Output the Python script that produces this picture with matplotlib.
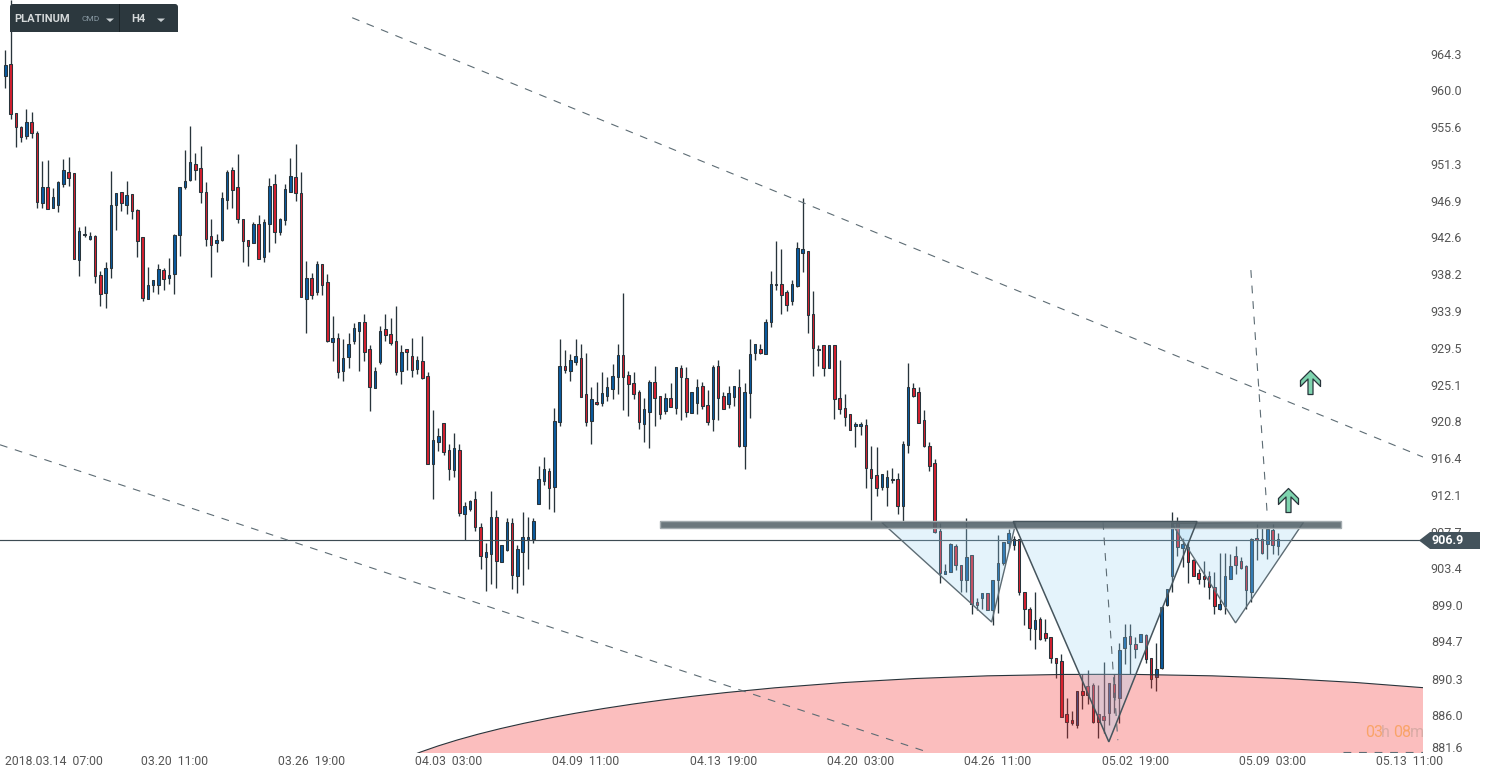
import matplotlib
matplotlib.use('Agg')
import matplotlib.pyplot as plt
from matplotlib.patches import Ellipse, FancyBboxPatch, Polygon, Rectangle
from matplotlib.path import Path
from matplotlib.transforms import Affine2D, ScaledTranslation

# --- Data (4h candles, one row = 10 candles) ---
opens = [
    961.7, 963.1, 957.3, 955.7, 954.6, 956.2, 954.9, 946.6, 948.6, 946.0,
    946.4, 948.9, 950.3, 950.2, 939.9, 943.0, 942.4, 942.7, 938.1, 936.0,
    939.0, 946.4, 947.9, 946.4, 947.7, 945.8, 942.6, 935.3, 936.9, 936.9,
    938.7, 937.8, 938.2, 942.9, 948.5, 949.4, 951.3, 950.8, 947.9, 942.7,
    941.9, 942.3, 947.0, 950.5, 948.6, 944.8, 942.3, 941.9, 944.1, 940.3,
    944.1, 948.9, 943.2, 944.6, 948.0, 949.7, 947.8, 935.3, 937.8, 936.1,
    939.4, 937.3, 930.2, 930.7, 926.8, 928.4, 930.3, 931.5, 932.5, 929.3,
    924.7, 927.8, 931.7, 931.1, 930.3, 926.8, 929.3, 928.5, 927.0, 927.9,
    926.2, 915.7, 918.3, 920.6, 917.4, 915.0, 917.4, 909.8, 910.4, 911.6,
    908.2, 904.7, 905.1, 909.4, 904.1, 905.5, 908.7, 902.5, 905.3, 906.8,
    906.8, 911.0, 913.7, 914.9, 913.0, 920.7, 927.3, 926.8, 927.8, 928.3,
    924.0, 920.8, 923.1, 923.0, 923.8, 924.6, 926.0, 928.6, 926.3, 925.3,
    924.3, 920.5, 921.9, 925.4, 923.8, 922.0, 923.5, 922.4, 927.1, 925.9,
    921.8, 923.0, 925.0, 922.7, 921.0, 927.3, 923.8, 922.8, 923.7, 924.9,
    917.8, 924.1, 928.9, 929.3, 928.8, 932.5, 937.1, 937.0, 936.1, 935.0,
    936.8, 940.7, 941.0, 933.5, 929.4, 929.8, 927.1, 929.8, 923.5, 922.4,
    921.6, 920.2, 920.2, 920.3, 915.1, 914.4, 913.0, 913.0, 914.0, 913.9,
    910.8, 918.0, 924.7, 924.3, 920.9, 917.9, 915.8, 907.8, 902.7, 902.9,
    906.0, 903.7, 902.0, 904.9, 899.4, 899.9, 900.4, 898.4, 902.0, 904.0,
    906.4, 906.1, 906.8, 900.6, 898.5, 896.2, 897.4, 895.7, 895.2, 892.7,
    892.4, 886.1, 885.4, 884.8, 888.8, 889.4, 889.5, 886.1, 885.9, 886.2,
    889.7, 888.0, 893.9, 895.3, 894.4, 894.6, 895.5, 892.7, 890.5, 891.5,
    899.0, 902.4, 908.8, 905.8, 905.9, 904.4, 902.8, 902.5, 902.4, 901.2,
    898.6, 898.9, 902.1, 904.8, 904.2, 903.6, 900.6, 906.9, 906.8, 906.3,
    907.9, 906.0,
]
highs = [
    964.8, 970.7, 957.3, 955.8, 957.8, 957.4, 955.2, 951.6, 951.7, 948.4,
    949.2, 951.9, 952.1, 950.2, 943.8, 943.9, 943.2, 942.8, 938.6, 939.7,
    950.4, 947.8, 947.9, 949.3, 947.7, 945.9, 942.6, 939.1, 937.5, 939.4,
    938.9, 940.1, 943.0, 948.5, 952.9, 955.8, 952.6, 953.4, 949.1, 944.8,
    943.0, 947.9, 950.5, 950.9, 952.4, 944.8, 942.3, 944.4, 945.2, 944.8,
    949.6, 950.1, 944.9, 948.9, 952.0, 953.6, 950.3, 939.8, 938.3, 939.8,
    939.4, 938.2, 933.2, 931.3, 930.5, 931.2, 932.4, 932.5, 933.5, 929.8,
    927.2, 932.1, 933.5, 933.0, 934.5, 929.8, 929.3, 930.7, 928.5, 930.9,
    926.6, 922.1, 920.0, 920.6, 918.1, 919.4, 918.1, 911.2, 911.5, 912.5,
    908.7, 906.4, 912.5, 910.3, 906.1, 909.3, 909.3, 906.1, 910.0, 909.4,
    909.3, 915.5, 916.5, 915.2, 922.3, 930.5, 929.2, 928.8, 930.5, 930.0,
    928.9, 924.8, 925.4, 926.6, 926.0, 927.6, 930.0, 936.0, 926.7, 926.6,
    924.5, 923.5, 925.7, 927.3, 923.8, 924.1, 925.3, 927.2, 927.5, 927.2,
    924.2, 925.8, 925.4, 924.5, 927.4, 928.1, 924.2, 925.0, 925.0, 927.0,
    925.3, 930.5, 930.0, 930.0, 932.9, 938.6, 942.2, 941.2, 936.3, 937.5,
    942.0, 947.2, 941.0, 936.2, 929.8, 929.8, 929.8, 929.8, 928.1, 924.0,
    921.7, 920.7, 920.7, 921.1, 917.8, 917.7, 914.5, 915.0, 915.3, 914.6,
    918.5, 927.7, 925.3, 924.9, 922.1, 918.3, 916.3, 908.7, 903.9, 906.4,
    906.2, 903.7, 909.3, 904.9, 899.8, 900.4, 900.4, 902.0, 907.3, 906.5,
    908.0, 907.2, 906.8, 900.6, 898.8, 900.6, 897.6, 897.4, 895.2, 892.7,
    893.2, 888.0, 886.5, 888.8, 890.8, 891.3, 889.8, 889.5, 892.3, 889.8,
    890.8, 894.5, 896.8, 896.8, 895.2, 895.6, 895.6, 892.7, 894.5, 898.8,
    900.9, 910.0, 909.4, 906.9, 906.5, 904.5, 903.3, 904.2, 903.0, 902.9,
    905.2, 905.2, 905.0, 906.0, 904.7, 903.8, 906.9, 908.6, 908.1, 908.2,
    908.6, 907.5,
]
lows = [
    960.3, 956.6, 953.3, 953.9, 954.2, 954.3, 946.0, 946.0, 945.9, 946.0,
    945.6, 948.5, 948.7, 940.0, 938.0, 942.6, 942.3, 937.2, 934.4, 934.2,
    937.8, 943.5, 945.7, 945.3, 944.8, 940.2, 935.0, 935.3, 936.1, 935.9,
    936.3, 937.0, 935.9, 940.4, 948.3, 949.2, 949.4, 946.7, 941.5, 937.9,
    940.8, 942.2, 945.9, 946.0, 944.3, 939.6, 939.2, 941.9, 940.0, 939.6,
    940.8, 941.9, 942.9, 944.0, 948.0, 946.9, 935.5, 931.3, 935.3, 935.8,
    935.8, 930.2, 927.9, 925.9, 925.5, 927.1, 930.0, 926.8, 927.9, 922.0,
    924.7, 927.6, 930.3, 929.8, 926.3, 925.2, 926.9, 926.0, 926.4, 925.8,
    915.7, 911.6, 917.3, 916.8, 913.8, 914.2, 909.6, 906.7, 910.2, 907.8,
    903.3, 900.7, 901.5, 901.0, 904.1, 905.4, 900.9, 900.4, 901.4, 903.3,
    906.4, 911.0, 913.2, 910.4, 910.0, 920.2, 926.5, 925.6, 927.5, 923.7,
    920.2, 918.1, 922.7, 922.6, 923.2, 923.4, 924.0, 922.1, 921.4, 923.4,
    919.9, 918.3, 917.6, 920.2, 921.1, 921.6, 922.5, 921.6, 920.9, 921.3,
    921.8, 921.6, 922.2, 920.3, 919.6, 920.9, 922.2, 922.4, 922.6, 917.7,
    915.1, 921.2, 928.0, 928.7, 928.8, 932.0, 936.3, 933.5, 933.8, 934.6,
    936.7, 938.5, 931.2, 926.1, 927.3, 926.1, 927.1, 921.1, 921.7, 920.2,
    919.7, 917.7, 919.2, 912.9, 909.1, 911.9, 912.6, 910.8, 913.5, 909.8,
    908.8, 917.0, 923.7, 920.6, 917.7, 914.9, 907.5, 901.6, 902.7, 902.9,
    903.2, 900.6, 900.6, 897.9, 898.4, 898.6, 898.4, 896.6, 898.1, 903.8,
    905.8, 905.5, 900.2, 896.6, 894.9, 893.8, 894.9, 894.8, 892.2, 890.4,
    885.8, 883.3, 884.8, 884.5, 886.7, 887.3, 885.0, 883.3, 883.9, 884.8,
    886.2, 885.0, 892.0, 890.8, 892.7, 894.6, 892.1, 889.2, 888.8, 891.4,
    898.9, 900.5, 904.8, 903.5, 901.6, 902.5, 901.5, 901.2, 899.7, 897.9,
    898.4, 898.0, 902.1, 902.7, 903.3, 898.6, 899.4, 904.4, 905.0, 904.5,
    905.1, 904.9,
]
closes = [
    963.0, 957.2, 955.6, 954.5, 956.3, 955.0, 946.8, 948.5, 945.9, 947.3,
    949.1, 950.5, 949.6, 940.0, 943.3, 942.8, 942.7, 938.0, 935.9, 939.0,
    946.4, 947.8, 946.6, 947.6, 945.7, 942.1, 935.4, 936.9, 937.5, 938.8,
    937.6, 938.1, 942.9, 948.5, 949.3, 951.5, 950.5, 948.0, 942.4, 941.7,
    942.3, 947.2, 950.3, 948.2, 944.8, 942.1, 941.6, 944.1, 940.0, 944.4,
    948.7, 943.2, 944.7, 948.3, 949.8, 947.8, 935.5, 937.8, 935.8, 939.4,
    936.9, 930.3, 930.6, 926.6, 928.3, 930.0, 931.8, 932.5, 929.0, 924.9,
    926.7, 931.5, 931.0, 930.1, 926.6, 929.0, 929.0, 926.9, 928.0, 925.9,
    915.7, 918.6, 919.0, 917.2, 915.1, 917.6, 909.9, 910.7, 911.3, 908.2,
    904.8, 905.3, 909.4, 904.2, 906.1, 908.8, 902.6, 905.6, 907.1, 907.1,
    909.0, 913.9, 915.1, 912.9, 920.8, 927.3, 926.9, 928.0, 928.5, 923.7,
    920.7, 923.4, 922.8, 924.1, 924.8, 926.1, 928.6, 926.0, 925.2, 924.0,
    920.7, 922.2, 925.4, 923.5, 921.6, 923.5, 922.5, 927.2, 926.0, 921.9,
    924.2, 924.9, 922.6, 920.7, 927.2, 923.5, 922.2, 924.1, 925.0, 917.9,
    924.3, 928.8, 929.9, 928.9, 932.5, 937.0, 936.9, 935.8, 934.6, 937.0,
    941.3, 941.2, 933.4, 929.5, 929.2, 927.1, 929.8, 923.4, 922.2, 921.3,
    919.8, 920.5, 920.5, 915.2, 914.1, 912.9, 914.5, 914.2, 913.8, 910.7,
    918.1, 924.8, 923.8, 920.6, 917.9, 915.5, 907.7, 902.8, 903.1, 906.2,
    903.7, 902.0, 904.7, 899.1, 899.0, 900.4, 898.4, 902.0, 904.0, 906.5,
    907.5, 906.8, 900.6, 898.5, 896.3, 897.2, 895.0, 895.1, 892.7, 892.1,
    885.8, 885.2, 885.0, 888.8, 888.4, 888.3, 885.2, 885.2, 885.4, 889.8,
    888.1, 893.7, 895.2, 894.4, 893.8, 895.6, 892.6, 890.3, 891.4, 898.8,
    900.9, 908.8, 905.9, 906.3, 904.1, 902.5, 902.1, 902.1, 901.2, 898.9,
    899.1, 902.5, 903.6, 903.8, 903.4, 900.8, 906.8, 906.7, 905.2, 908.0,
    906.1, 906.8,
]

# axis labels
price_ticks = [964.3, 960.0, 955.6, 951.3, 946.9, 942.6, 938.2, 933.9, 929.5, 925.1,
               920.8, 916.4, 912.1, 907.7, 903.4, 899.0, 894.7, 890.3, 886.0, 881.6]
date_idx = [9.3, 32, 58, 84, 110, 136, 162, 188, 214, 240, 266]
date_labels = ['2018.03.14  07:00', '03.20  11:00', '03.26  19:00', '04.03  03:00',
               '04.09  11:00', '04.13  19:00', '04.20  03:00', '04.26  11:00',
               '05.02  19:00', '05.09  03:00', '05.13  11:00']
last_price = 906.7
last_label = '906.9'

# drawn analysis, as (candle index, price)
trend_upper = ([65.7, 268.5], [968.6, 916.55])
trend_lower = ([-1.0, 175.1], [918.0, 881.5])
trend_base = ([253.3, 268.5], [881.6, 881.6])
target_top = ([235.9, 239.0], [938.7, 909.7])
target_low = ([207.9, 210.7], [908.85, 883.0])
neckline = (124.0, 253.0, 908.14, 909.0)
shoulder_left = [(166.0, 908.8), (186.8, 897.0), (191.4, 908.8)]
head = [(190.9, 908.9), (209.0, 882.8), (225.7, 908.9)]
shoulder_right = [(220.9, 908.7), (233.0, 896.9), (245.9, 908.85)]
arrows_x = [243.0, 247.1]
arrows_y = [911.46, 925.44]

# --- Figure ---------------------------------------------------
W, H = 1491, 778
plt.rcParams['font.family'] = ['Roboto', 'DejaVu Sans']
fig = plt.figure(figsize=(W / 100, H / 100), dpi=100, facecolor='white')
ax = fig.add_axes([0, (H - 753) / H, 1423 / W, 753 / H])
ax.set_xlim(-1.004, 268.5)
ax.set_ylim(881.48, 970.7)
for s in ax.spines.values():
    s.set_visible(False)

DARK = '#28343b'
LINE = '#5d6c74'

# candles
idx = list(range(len(opens)))
colors = ['#0a5a9e' if c >= o else '#d3202f' for o, c in zip(opens, closes)]
ax.vlines(idx, lows, highs, color=DARK, lw=0.95, zorder=2)
ax.bar(idx, [abs(c - o) for o, c in zip(opens, closes)],
       bottom=[min(o, c) for o, c in zip(opens, closes)],
       width=0.48, color=colors, edgecolor=DARK, linewidth=0.75, zorder=3)

# pink zone, a very wide ellipse cut by the chart bottom
ax.add_patch(Ellipse((207.3, 874.1), 287.9, 33.4, facecolor=(0.95, 0.16, 0.16),
                     alpha=0.3, edgecolor='none', zorder=4))
ax.add_patch(Ellipse((207.3, 874.1), 287.9, 33.4, fill=False,
                     edgecolor=DARK, lw=0.8, zorder=4))

# current price line
ax.axhline(last_price, color='#3d4b53', lw=0.85, zorder=5)

# head and shoulders
for tri in (shoulder_left, head, shoulder_right):
    ax.add_patch(Polygon(tri, closed=True, facecolor=(0.62, 0.83, 0.957), alpha=0.28,
                         edgecolor='none', zorder=6))
ax.add_patch(Polygon(shoulder_left, closed=True, fill=False, edgecolor=LINE, lw=1.0, zorder=6))
ax.add_patch(Polygon(shoulder_right, closed=True, fill=False, edgecolor=LINE, lw=1.0, zorder=6))

# neckline band
x0, x1, y0, y1 = neckline
ax.add_patch(Rectangle((x0, y0), x1 - x0, y1 - y0, facecolor='#56646b', alpha=0.88,
                       edgecolor='none', zorder=7))
ax.add_patch(Rectangle((x0, y0), x1 - x0, y1 - y0, fill=False,
                       edgecolor='#a3abaf', lw=1.0, zorder=7))
ax.add_patch(Polygon(head, closed=True, fill=False, edgecolor='#46555d', lw=1.1, zorder=8))

# dashed lines
for xs, ys in (trend_upper, trend_lower, trend_base, target_top, target_low):
    ax.plot(xs, ys, color=LINE, lw=0.8, linestyle=(0, (7, 7)), zorder=8)

# arrows
arrow = Path([(0, 12), (10, 2), (10, -4), (2.5, 3.5), (2.5, -12), (-2.5, -12),
              (-2.5, 3.5), (-10, -4), (-10, 2), (0, 12)], closed=True)
ax.plot(arrows_x, arrows_y, linestyle='none', marker=arrow, markersize=17.3,
        markerfacecolor='#7fd4af', markeredgecolor=DARK, markeredgewidth=0.9, zorder=9)

# axes text
ax.yaxis.tick_right()
ax.set_yticks(price_ticks)
ax.set_yticklabels([f'{p:.1f}' for p in price_ticks])
ax.set_xticks(date_idx)
ax.set_xticklabels(date_labels)
ax.tick_params(axis='y', length=0, pad=5.6, labelsize=9, labelcolor='#555555')
ax.tick_params(axis='x', length=0, pad=1.5, labelsize=8.8, labelcolor='#555555')
low_label = ax.get_yticklabels()[-1]
low_label.set_va('bottom')
low_label.set_transform(low_label.get_transform() + ScaledTranslation(0, -0.03, fig.dpi_scale_trans))

# countdown
timer = [('03', 1365, '#f9a469'), ('h', 1380.5, '#d9aba6'), ('08', 1393, '#f9a469'), ('m', 1409.5, '#d9aba6')]
px = Affine2D().scale(1 / W, -1 / H).translate(0, 1) + fig.transFigure
for txt, xpos, col in timer:
    fig.text(xpos, 732.5, txt, transform=px, fontsize=11.5, color=col, va='center', zorder=20)

# --- Chart chrome --------------------------------------------
fig.add_artist(Polygon([(1419, 540.5), (1430, 532), (1480, 532), (1480, 549), (1430, 549)],
                       closed=True, transform=px, facecolor='#44535c', edgecolor='none', zorder=10))
fig.text(1431, 540.5, last_label, transform=px, fontsize=9, fontweight='bold', color='white',
         va='center', zorder=20)

fig.add_artist(FancyBboxPatch((12, 6), 164, 24, boxstyle='round,pad=2,rounding_size=3',
                              transform=px, facecolor='#2c383e', edgecolor='none', zorder=10))
fig.add_artist(Rectangle((10, 26), 168, 6, transform=px, facecolor='#2c383e',
                         edgecolor='none', zorder=10))
fig.add_artist(Rectangle((119, 4), 1, 28, transform=px, facecolor='#1b2428',
                         edgecolor='none', zorder=11))
fig.text(14, 19, 'PLATINUM', transform=px, fontsize=8, fontweight='bold', color='#d5d9da',
         va='center', zorder=20)
fig.text(81, 19, 'CMD', transform=px, fontsize=6, color='#8b9ba5', va='center', zorder=20)
fig.text(131, 19, 'H4', transform=px, fontsize=8, fontweight='bold', color='#d5d9da',
         va='center', zorder=20)
for cx in (110, 161):
    fig.add_artist(Polygon([(cx - 4, 18.5), (cx + 4, 18.5), (cx, 22)], closed=True, transform=px,
                           facecolor='#c9cfd2', edgecolor='none', zorder=20))

fig.savefig('out.png', dpi=100)
